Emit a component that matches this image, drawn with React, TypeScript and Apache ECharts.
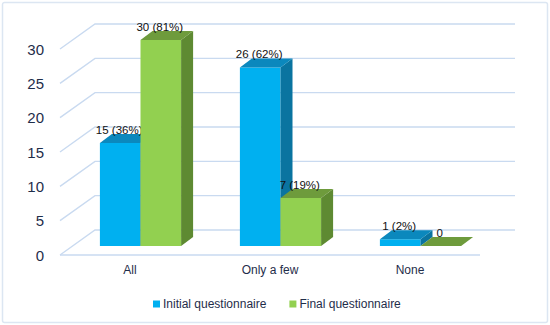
import React, { useEffect, useRef } from "react";
import * as echarts from "echarts";

const categories = ["All", "Only a few", "None"];
const initialValues = [15, 26, 1];
const initialPct = [36, 62, 2];
const finalValues = [30, 7, 0];
const finalPct: (number | null)[] = [81, 19, null];
const tickValues = [0, 5, 10, 15, 20, 25, 30];

const FONT = "'Liberation Sans', Arial, sans-serif";
const WALL_DX = 35;
const WALL_DY = -25;
const BAR_DX = 10.5;
const BAR_DY = -9;
const DEPTH_DX = 12;
const DEPTH_DY = -9;

const palette = {
  blue: { front: "#00B0F0", side: "#0A74A0", top: "#0B88BD" },
  green: { front: "#92D050", side: "#5E8A32", top: "#6E9B3C" },
};

function makeBarRender(idx: number, colors: { front: string; side: string; top: string }, pcts: (number | null)[]) {
  return (params: any, api: any) => {
    const cat = api.value(0);
    const val = api.value(1);
    const base = api.coord([cat, 0]);
    const top = api.coord([cat, val]);
    const band = api.size([1, 0])[0];
    const w = band * 0.29;
    const cx = base[0] + BAR_DX;
    const x0 = idx === 0 ? cx - w : cx;
    const x1 = x0 + w;
    const yb = base[1] + BAR_DY;
    const yt = top[1] + BAR_DY;
    const p = pcts[params.dataIndex];
    const label = p != null ? `${val} (${p}%)` : `${val}`;
    return {
      type: "group",
      children: [
        {
          type: "rect",
          shape: { x: x0, y: yt, width: w, height: Math.max(yb - yt, 0) },
          style: { fill: colors.front },
        },
        {
          type: "polygon",
          shape: {
            points: [
              [x1, yt],
              [x1 + DEPTH_DX, yt + DEPTH_DY],
              [x1 + DEPTH_DX, yb + DEPTH_DY],
              [x1, yb],
            ],
          },
          style: { fill: colors.side },
        },
        {
          type: "polygon",
          shape: {
            points: [
              [x0, yt],
              [x0 + DEPTH_DX, yt + DEPTH_DY],
              [x1 + DEPTH_DX, yt + DEPTH_DY],
              [x1, yt],
            ],
          },
          style: { fill: colors.top },
        },
        {
          type: "text",
          style: {
            text: label,
            x: (x0 + x1) / 2 - 1,
            y: yt - 13,
            align: "center",
            verticalAlign: "middle",
            fontSize: 11.5,
            fontFamily: FONT,
            fill: "#111111",
          },
        },
      ],
    };
  };
}

export default function App() {
  const ref = useRef<HTMLDivElement>(null);
  useEffect(() => {
    if (!ref.current) return;
    const chart = echarts.init(ref.current, undefined, { renderer: "svg" });
    const option: any = {
      animation: false,
      backgroundColor: "#ffffff",
      graphic: [
        {
          type: "rect",
          shape: { x: 2.5, y: 2.5, width: 545, height: 320, r: 2 },
          style: { fill: "none", stroke: "#DCE6F2", lineWidth: 1.5 },
          z: -10,
        },
      ],
      grid: { left: 60, right: 70, top: 49, bottom: 70 },
      legend: {
        left: 148,
        top: 293,
        itemWidth: 7,
        itemHeight: 7,
        itemGap: 23,
        icon: "rect",
        textStyle: { fontSize: 12, fontFamily: FONT, color: "#1F2D4A", padding: [0, 0, 0, -2] },
        data: ["Initial questionnaire", "Final questionnaire"],
      },
      xAxis: {
        type: "category",
        data: categories,
        axisLine: { show: false },
        axisTick: { show: false },
        splitLine: { show: false },
        axisLabel: { fontSize: 12, fontFamily: FONT, color: "#1F2D4A", margin: 9 },
      },
      yAxis: {
        type: "value",
        min: 0,
        max: 30,
        interval: 5,
        axisLine: { show: false },
        axisTick: { show: false },
        splitLine: { show: false },
        axisLabel: { fontSize: 15, fontFamily: FONT, color: "#1F2D4A", margin: 16 },
      },
      series: [
        {
          type: "custom",
          name: "grid",
          silent: true,
          z: 1,
          data: tickValues.map((v) => [0, v]),
          renderItem: (params: any, api: any) => {
            const cs = params.coordSys;
            const y = api.coord([0, api.value(1)])[1];
            const left = cs.x;
            const right = cs.x + cs.width;
            const children: any[] = [
              {
                type: "polyline",
                shape: {
                  points: [
                    [left, y],
                    [left + WALL_DX, y + WALL_DY],
                    [right + WALL_DX, y + WALL_DY],
                  ],
                },
                style: { stroke: "#C9DAF0", lineWidth: 1.4, fill: "none" },
              },
            ];
            if (api.value(1) === 0) {
              children.push({
                type: "line",
                shape: { x1: left, y1: y, x2: right, y2: y },
                style: { stroke: "#C9DAF0", lineWidth: 1.4 },
              });
            }
            return { type: "group", children };
          },
        },
        {
          type: "custom",
          name: "Initial questionnaire",
          z: 2,
          itemStyle: { color: palette.blue.front },
          data: initialValues.map((v, i) => [i, v]),
          renderItem: makeBarRender(0, palette.blue, initialPct),
        },
        {
          type: "custom",
          name: "Final questionnaire",
          z: 3,
          itemStyle: { color: palette.green.front },
          data: finalValues.map((v, i) => [i, v]),
          renderItem: makeBarRender(1, palette.green, finalPct),
        },
      ],
    };
    chart.setOption(option);
    return () => chart.dispose();
  }, []);
  return (
    <div
      ref={ref}
      style={{ position: "fixed", left: 0, top: 0, width: 550, height: 325, background: "#fff" }}
    />
  );
}
